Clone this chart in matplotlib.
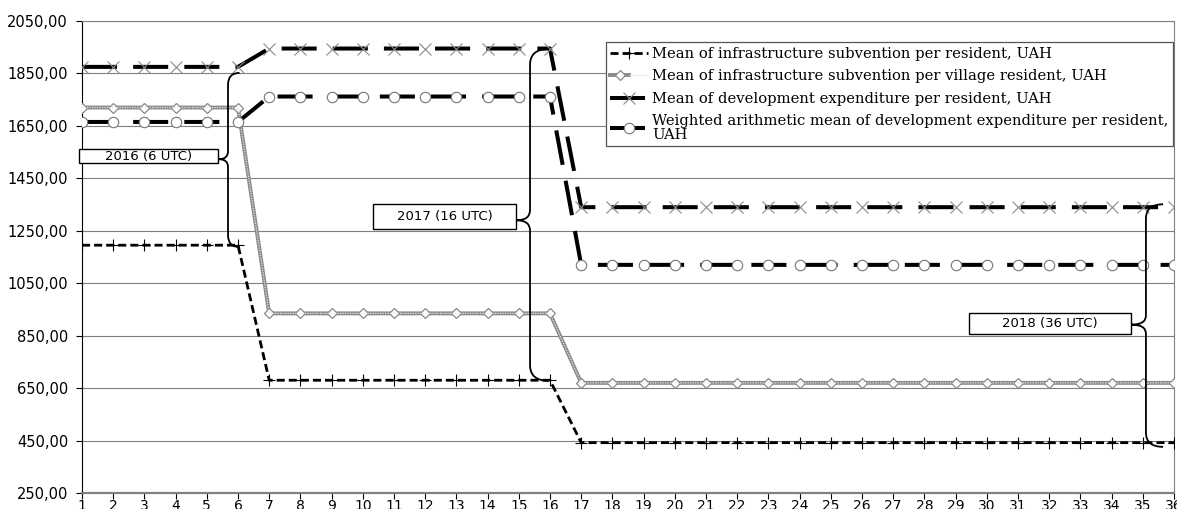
import matplotlib
matplotlib.use("Agg")
import matplotlib.pyplot as plt
from matplotlib.path import Path
from matplotlib.patches import PathPatch, Rectangle
from matplotlib.legend_handler import HandlerTuple

# data (36 UTC, grouped by year)
x = list(range(1, 37))
subv_resident = [1195] * 6 + [680] * 10 + [442] * 20
subv_village = [1720] * 6 + [935] * 10 + [670] * 20
dev_resident = [1875] * 6 + [1945] * 10 + [1340] * 20
dev_weighted = [1665] * 6 + [1762] * 10 + [1120] * 20
labels = ["Mean of infrastructure subvention per resident, UAH",
          "Mean of infrastructure subvention per village resident, UAH",
          "Mean of development expenditure per resident, UAH",
          "Weighted arithmetic mean of development expenditure per resident,\nUAH"]
yticks = [250, 450, 650, 850, 1050, 1250, 1450, 1650, 1850, 2050]
year_labels = ["2016 (6 UTC)", "2017 (16 UTC)", "2018 (36 UTC)"]

fig = plt.figure(figsize=(11.77, 5.09), dpi=100)
ax = fig.add_axes([82 / 1177, 1 - 493 / 509, 1092 / 1177, 472 / 509])

l1, = ax.plot(x, subv_resident, color="black", lw=2.0, dashes=(2.9, 1.45),
              marker="+", ms=9, mec="black", mew=0.8, zorder=4)
l2a, = ax.plot(x, subv_village, color="#8a8a8a", lw=2.8, marker="D", ms=5,
               mfc="white", mec="#888888", mew=0.9, zorder=3)
l2b, = ax.plot(x, subv_village, color="#e4e4e4", lw=0.9, dashes=(1, 1), zorder=3)
l3, = ax.plot(x, dev_resident, color="black", lw=2.9, dashes=(8.7, 4.0),
              marker="x", ms=8, mec="#8a8a8a", mew=0.8, zorder=4)
l4, = ax.plot(x, dev_weighted, color="black", lw=2.9, dashes=(8.7, 4.0),
              marker="o", ms=7.5, mfc="white", mec="#777777", mew=0.8, zorder=4)

ax.set_xlim(1, 36)
ax.set_ylim(250, 2050)
ax.set_xticks(x)
ax.set_yticks(yticks)
ax.set_yticklabels([f"{v:.2f}".replace(".", ",") for v in yticks])
ax.tick_params(axis="both", length=4, width=0.8)
ax.tick_params(axis="y", pad=6, labelsize=10.5)
ax.tick_params(axis="x", pad=0, labelsize=10)
for t in ax.get_xticklabels() + ax.get_yticklabels():
    t.set_family("DejaVu Sans")
ax.grid(axis="y", color="#7f7f7f", lw=0.8, zorder=0)
ax.set_axisbelow(True)
ax.spines["left"].set_color("black")
ax.spines["bottom"].set_color("#808080")
ax.spines["bottom"].set_linewidth(1.6)
ax.spines["right"].set_color("#808080")
ax.spines["top"].set_color("#808080")
ax.spines["top"].set_linewidth(0.8)


def brace(xv, xend, xtip, ytop, ybot, ymid, ry, rt):
    verts = [(xend, ytop), (xv, ytop), (xv, ytop - ry),
             (xv, ymid + rt), (xv, ymid), (xtip, ymid),
             (xv, ymid), (xv, ymid - rt),
             (xv, ybot + ry), (xv, ybot), (xend, ybot)]
    codes = [Path.MOVETO, Path.CURVE3, Path.CURVE3,
             Path.LINETO, Path.CURVE3, Path.CURVE3,
             Path.CURVE3, Path.CURVE3,
             Path.LINETO, Path.CURVE3, Path.CURVE3]
    ax.add_patch(PathPatch(Path(verts, codes), fill=False, lw=1.3,
                           edgecolor="black", zorder=5, clip_on=False))


def year_box(x0, x1, y0, y1, text):
    ax.add_patch(Rectangle((x0, y0), x1 - x0, y1 - y0, facecolor="white",
                           edgecolor="black", lw=1.0, zorder=6, clip_on=False))
    ax.text((x0 + x1) / 2, (y0 + y1) / 2, text, ha="center", va="center",
            fontsize=9.5, family="DejaVu Sans", zorder=7, clip_on=False)


brace(5.68, 6.05, 5.39, 1852, 1188, 1523, 45, 30)
brace(15.36, 15.95, 14.94, 1943, 678, 1290, 60, 40)
brace(35.10, 35.65, 34.65, 1351, 426, 892, 55, 35)
year_box(0.90, 5.36, 1507, 1561, year_labels[0])
year_box(10.33, 14.91, 1255, 1351, year_labels[1])
year_box(29.43, 34.62, 858, 938, year_labels[2])

leg = ax.legend([l1, (l2a, l2b), l3, l4], labels,
                handler_map={tuple: HandlerTuple(ndivide=None, pad=0)},
                loc="upper left", bbox_to_anchor=(0.4795, 0.955),
                prop={"family": "DejaVu Serif", "size": 10.6},
                handlelength=2.6, handletextpad=0.25, labelspacing=0.58,
                borderpad=0.3, borderaxespad=0, fancybox=False,
                framealpha=1, edgecolor="#555555")
leg.get_frame().set_linewidth(0.9)
leg.get_texts()[3].set_linespacing(0.95)
leg.set_zorder(8)

fig.savefig("out.png", dpi=100)
